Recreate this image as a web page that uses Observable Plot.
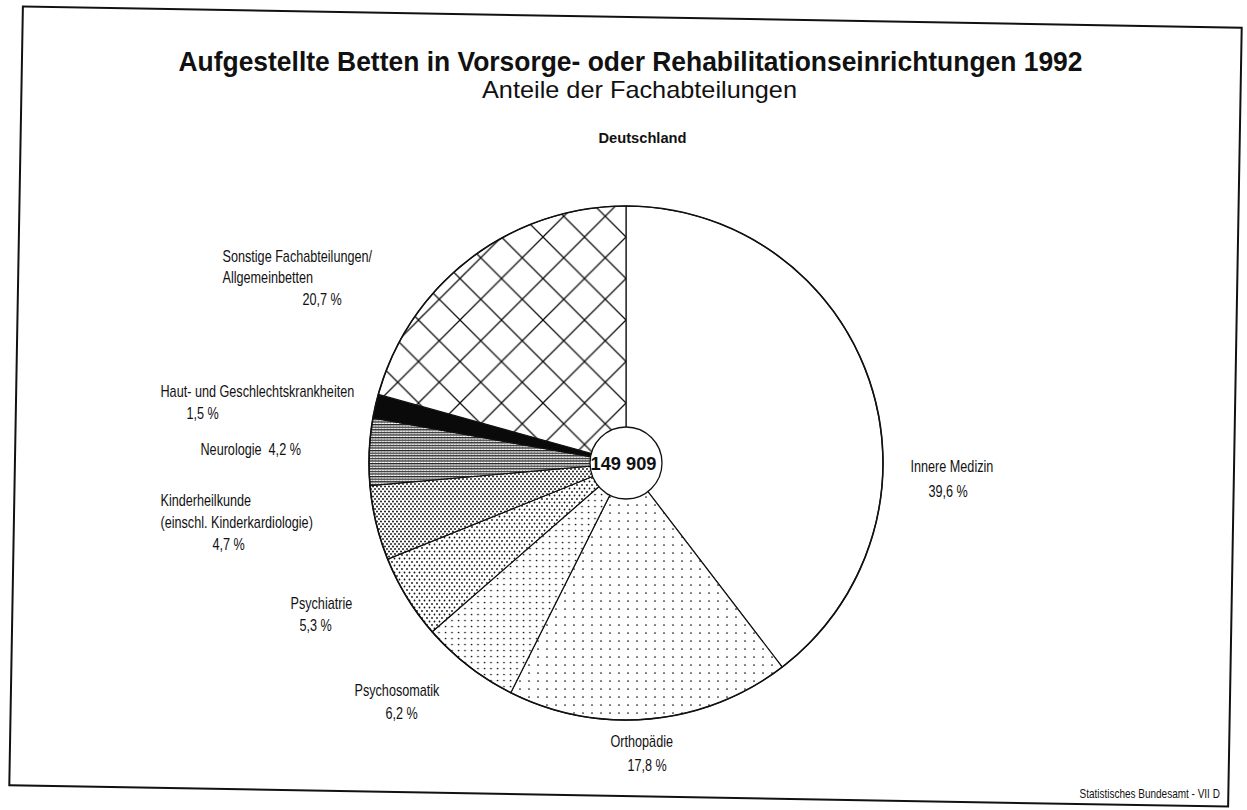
<!DOCTYPE html>
<html>
<head>
<meta charset="utf-8">
<script src="https://cdn.jsdelivr.net/npm/d3@7"></script>
<script src="https://cdn.jsdelivr.net/npm/@observablehq/plot@0.6"></script>
<style>
  html, body { margin: 0; padding: 0; background: #fff; }
  #wrap { position: relative; width: 1247px; height: 810px; overflow: hidden; }
  #wrap svg { display: block; }
  #frame { position: absolute; left: 15px; top: 16px; width: 1217px; height: 777px;
           border: 2px solid #111; transform: rotate(1deg); transform-origin: center; pointer-events: none; }
</style>
</head>
<body>
<div id="wrap"><div id="frame"></div></div>
<script>
// ---------------- data ----------------
const titleText = "Aufgestellte Betten in Vorsorge- oder Rehabilitationseinrichtungen 1992";
const subtitleText = "Anteile der Fachabteilungen";
const regionText = "Deutschland";
const sourceText = "Statistisches Bundesamt - VII D";
const totalBeds = 149909;

const categories = [
  "Innere Medizin",
  "Orthopädie",
  "Psychosomatik",
  "Psychiatrie",
  "Kinderheilkunde (einschl. Kinderkardiologie)",
  "Neurologie",
  "Haut- und Geschlechtskrankheiten",
  "Sonstige Fachabteilungen/Allgemeinbetten"
];
const shares = [39.6, 17.8, 6.2, 5.3, 4.7, 4.2, 1.5, 20.7];
const nameLines = [
  ["Innere Medizin"],
  ["Orthopädie"],
  ["Psychosomatik"],
  ["Psychiatrie"],
  ["Kinderheilkunde", "(einschl. Kinderkardiologie)"],
  ["Neurologie"],
  ["Haut- und Geschlechtskrankheiten"],
  ["Sonstige Fachabteilungen/", "Allgemeinbetten"]
];

// ---------------- layout (pixels) ----------------
const pie = { cx: 626, cy: 463, r: 257, inner: 36 };
const patternIds = ["p-white", "p-ortho", "p-psom", "p-psych", "p-kinder", "p-neuro", "p-haut", "p-cross"];
const shareInline = [false, false, false, false, false, true, false, false];
const labelPos = [
  { x: [910, 928], y: [466, 491] },
  { x: [610, 627], y: [741, 765] },
  { x: [354, 385], y: [690, 713] },
  { x: [290, 299], y: [603, 625] },
  { x: [160, 160, 212], y: [500, 522, 544] },
  { x: [200], y: [449] },
  { x: [160, 186], y: [391, 413] },
  { x: [222, 222, 302], y: [256, 277, 299] }
];

const fmtShare = v => v.toFixed(1).replace(".", ",") + " %";
const fmtTotal = v => d3.format(",")(v).replace(/,/g, " ");

const rows = categories.map((c, i) => ({ category: c, share: shares[i], pattern: patternIds[i] }));

const labelRows = [];
categories.forEach((c, i) => {
  const lines = nameLines[i].slice();
  if (shareInline[i]) lines[lines.length - 1] += "  " + fmtShare(shares[i]);
  else lines.push(fmtShare(shares[i]));
  lines.forEach((t, j) => labelRows.push({ text: t, x: labelPos[i].x[j], y: labelPos[i].y[j] }));
});

const patternDefs = `
<pattern id="p-white" patternUnits="userSpaceOnUse" width="10" height="10"><rect width="10" height="10" fill="#fff"/></pattern>
<pattern id="p-ortho" patternUnits="userSpaceOnUse" width="9" height="8"><rect width="9" height="8" fill="#fff"/><circle cx="2" cy="2" r="0.85" fill="#111"/></pattern>
<pattern id="p-psom" patternUnits="userSpaceOnUse" width="6.5" height="6"><rect width="6.5" height="6" fill="#fff"/><circle cx="1.5" cy="1.5" r="0.85" fill="#111"/></pattern>
<pattern id="p-psych" patternUnits="userSpaceOnUse" width="5" height="7"><rect width="5" height="7" fill="#fff"/><circle cx="1" cy="1" r="0.9" fill="#111"/><circle cx="3.5" cy="4.5" r="0.9" fill="#111"/></pattern>
<pattern id="p-kinder" patternUnits="userSpaceOnUse" width="4" height="5"><rect width="4" height="5" fill="#fff"/><circle cx="1" cy="1" r="0.95" fill="#111"/><circle cx="3" cy="3.5" r="0.95" fill="#111"/></pattern>
<pattern id="p-neuro" patternUnits="userSpaceOnUse" width="3" height="2.6"><rect width="3" height="2.6" fill="#fff"/><rect width="3" height="1.3" fill="#222"/><circle cx="1.5" cy="2" r="0.35" fill="#444"/></pattern>
<pattern id="p-haut" patternUnits="userSpaceOnUse" width="10" height="10"><rect width="10" height="10" fill="#0a0a0a"/></pattern>
<pattern id="p-cross" patternUnits="userSpaceOnUse" x="0" y="-226" width="41.5" height="41.5"><rect width="41.5" height="41.5" fill="#fff"/><path d="M0,0L41.5,41.5M41.5,0L0,41.5" stroke="#111" stroke-width="1.3" fill="none"/><path d="M-2,2L2,-2M39.5,-2L43.5,2M-2,39.5L2,43.5M39.5,43.5L43.5,39.5" stroke="#111" stroke-width="1.3"/></pattern>
`;

// custom pie mark: uses Plot's scales for the centre
function pieMark(index, scales) {
  const sx = (scales && scales.x) || (d => d);
  const sy = (scales && scales.y) || (d => d);
  const cx = sx(pie.cx), cy = sy(pie.cy);
  const arcs = d3.pie().sort(null).value(d => d.share)(rows);
  const arc = d3.arc().innerRadius(0).outerRadius(pie.r);
  const g = d3.create("svg:g").attr("aria-label", "pie").attr("transform", `translate(${cx},${cy})`);
  g.append("defs").html(patternDefs);
  g.selectAll("path.slice").data(arcs).join("path")
    .attr("class", "slice")
    .attr("d", arc)
    .attr("fill", d => `url(#${d.data.pattern})`)
    .attr("stroke", "#111")
    .attr("stroke-width", 1.2)
    .attr("stroke-linejoin", "round");
  g.append("circle").attr("r", pie.r).attr("fill", "none").attr("stroke", "#111").attr("stroke-width", 1.6);
  g.append("circle").attr("r", pie.inner).attr("fill", "#fff").attr("stroke", "#111").attr("stroke-width", 1.3);
  return g.node();
}

const chart = Plot.plot({
  width: 1247,
  height: 810,
  margin: 0,
  x: { type: "identity", axis: null },
  y: { type: "identity", axis: null },
  style: { fontFamily: "'Liberation Sans', Arial, Helvetica, sans-serif", background: "transparent", color: "#111" },
  marks: [
    pieMark,
    Plot.text([titleText], { x: 630, y: 62, text: d => d, fontSize: 28, fontWeight: "bold", fill: "#111" }),
    Plot.text([subtitleText], { x: 639, y: 90, text: d => d, fontSize: 24, fill: "#111" }),
    Plot.text([regionText], { x: 642, y: 138, text: d => d, fontSize: 15.5, fontWeight: "bold", fill: "#111" }),
    Plot.text([fmtTotal(totalBeds)], { x: 623, y: 463, text: d => d, fontSize: 19, fontWeight: "bold", fill: "#111" }),
    Plot.text(labelRows, { x: "x", y: "y", text: "text", textAnchor: "start", fontSize: 16, fill: "#111" }),
    Plot.text([sourceText], { x: 1079, y: 793, text: d => d, textAnchor: "start", fontSize: 12.5, fill: "#111" })
  ]
});

const wrap = document.getElementById("wrap");
wrap.insertBefore(chart, wrap.firstChild);

// condense glyphs like the original typeface
const widths = new Map([
  [titleText, 904], [subtitleText, 315], [regionText, 88], [fmtTotal(totalBeds), 66]
]);
const condensed = new Map(labelRows.map(d => [d.text, 0.79]));
condensed.set(sourceText, 0.8);
const isNum = v => v != null && v !== "" && !isNaN(+v);
chart.querySelectorAll("text").forEach(t => {
  const s = t.textContent;
  if (widths.has(s)) {
    t.setAttribute("textLength", widths.get(s));
    t.setAttribute("lengthAdjust", "spacingAndGlyphs");
  } else if (condensed.has(s)) {
    let x = 0;
    const xa = t.getAttribute("x");
    if (isNum(xa)) { x = +xa; t.removeAttribute("x"); }
    const tr = t.getAttribute("transform") || "";
    t.setAttribute("transform", `${tr} translate(${x},0) scale(${condensed.get(s)},1)`);
  }
});
</script>
</body>
</html>
